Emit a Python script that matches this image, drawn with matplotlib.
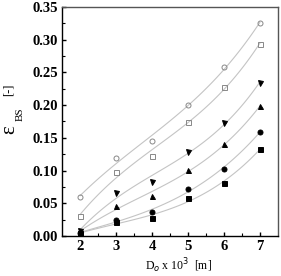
import matplotlib.pyplot as plt
import numpy as np

plt.rcParams['font.family'] = ['Liberation Serif', 'DejaVu Serif']

dp = [2, 3, 4, 5, 6, 7]
open_circ = [0.059, 0.119, 0.145, 0.200, 0.258, 0.325]
open_sq = [0.030, 0.098, 0.122, 0.174, 0.228, 0.293]
tri_down = [0.007, 0.066, 0.083, 0.128, 0.173, 0.234]
tri_up = [0.006, 0.046, 0.061, 0.101, 0.140, 0.198]
fill_circ = [0.005, 0.024, 0.036, 0.072, 0.103, 0.159]
fill_sq = [0.004, 0.021, 0.027, 0.058, 0.081, 0.133]

series = [
    (open_circ, 'o', 'none', '#888888'),
    (open_sq, 's', 'none', '#888888'),
    (tri_down, 'v', 'black', 'black'),
    (tri_up, '^', 'black', 'black'),
    (fill_circ, 'o', 'black', 'black'),
    (fill_sq, 's', 'black', 'black'),
]

fig = plt.figure(figsize=(2.81, 2.76), dpi=100)
ax = fig.add_axes([0.221, 0.145, 0.768, 0.830])

xs = np.linspace(2, 7, 100)
for vals, m, fc, ec in series:
    p = np.polyfit(dp, vals, 3)
    ax.plot(xs, np.polyval(p, xs), color='#c4c4c4', lw=0.8, zorder=1)
    ax.plot(dp, vals, ls='none', marker=m, ms=3.6, mfc=fc, mec=ec, mew=0.7, zorder=2)

ax.set_xlim(1.5, 7.5)
ax.set_ylim(0, 0.35)
ax.set_xticks([2, 3, 4, 5, 6, 7])
ax.set_xticks(np.arange(2.5, 7.5, 1), minor=True)
ax.set_yticks(np.arange(0, 0.351, 0.05))
ax.set_yticks(np.arange(0.025, 0.35, 0.05), minor=True)
ax.set_yticklabels(['%.2f' % v for v in np.arange(0, 0.351, 0.05)])
ax.tick_params(direction='in', labelsize=10.5, width=1, length=3, pad=3)
ax.tick_params(which='minor', direction='in', length=2, width=0.8)
for lab in ax.get_xticklabels() + ax.get_yticklabels():
    lab.set_fontweight('bold')
for s in ax.spines.values():
    s.set_linewidth(1.0)
ax.spines['top'].set_color('#555555')
ax.spines['right'].set_color('#555555')

fig.text(0.515, 0.005, r'D$_o$ x 10$^3$  [m]', fontsize=8.5, ha='left', va='bottom')
fig.text(0.036, 0.53, 'ε', fontsize=15, rotation=90, ha='center', va='center')
fig.text(0.072, 0.585, 'BS', fontsize=8, rotation=90, ha='center', va='center')
fig.text(0.03, 0.675, '[-]', fontsize=9, rotation=90, ha='center', va='center')

fig.savefig('out.png', dpi=100)
